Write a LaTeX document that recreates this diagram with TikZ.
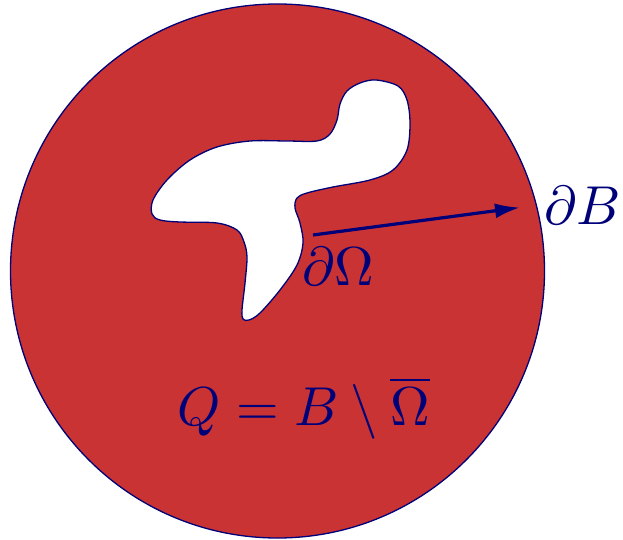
\documentclass[tikz,border=0pt]{standalone}
\usetikzlibrary{arrows.meta}
\definecolor{fillred}{RGB}{201,51,52}
\definecolor{navy}{RGB}{0,0,120}
\begin{document}
\begin{tikzpicture}[x=1bp,y=-1bp,
  edge/.style={draw=navy,line width=1.3bp},
  bigmath/.style={text=navy,font=\fontsize{10}{12}\selectfont,inner sep=0pt,anchor=base,scale=5.5}]
\useasboundingbox (0,0) rectangle (623,540);
\node[circle,minimum size=534bp,fill=fillred,edge,inner sep=0pt] (B) at (277.5,271) {};
\filldraw[edge,fill=white] plot[smooth cycle,tension=0.55] coordinates {
 (376,80) (360,83) (347,91) (340,104) (337,120) (330,134) (317,141)
 (287,141) (250,141) (217,147) (190,160) (167,180) (153,200) (152,214)
 (160,220) (180,222) (217,223) (237,230) (244,242) (247,257) (245,283)
 (242,310) (243,319) (249,320) (260,313) (280,290) (297,265) (303,243)
 (300,223) (295,208) (297,198) (307,193) (333,187) (370,180) (393,170)
 (407,150) (410,123) (407,100) (398,86)};
\coordinate (s) at (313,235);
\coordinate (t) at (520,207.5);
\draw[navy,line width=3.2bp,-{Latex[length=25bp,width=15bp]}] (s) -- (t);
\node[bigmath] (dB) at (583,225) {$\partial B$};
\node[bigmath] (dO) at (338,285) {$\partial\Omega$};
\node[bigmath] (Q) at (304,425) {$Q = B\setminus\overline{\Omega}$};
\end{tikzpicture}
\end{document}
